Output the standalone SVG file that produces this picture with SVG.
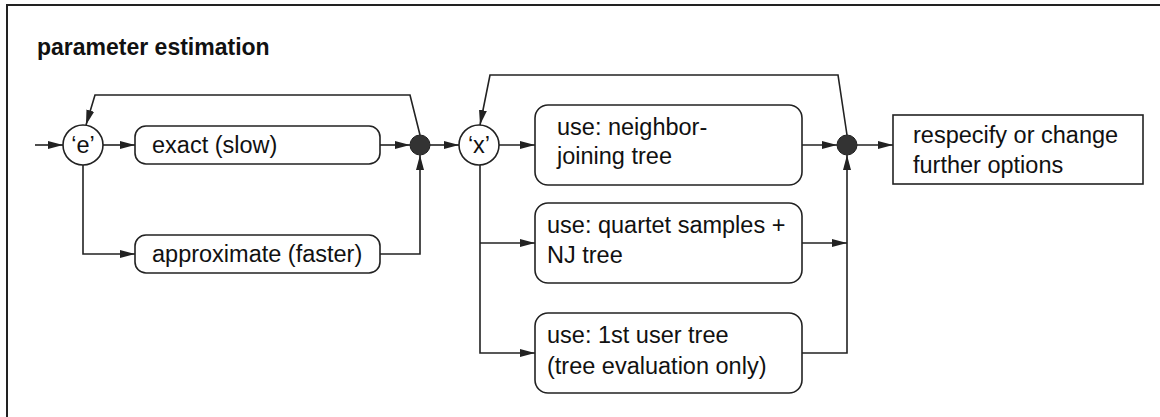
<svg xmlns="http://www.w3.org/2000/svg" width="1160" height="417" viewBox="0 0 1160 417">
<style>
.ln{fill:none;stroke:#222;stroke-width:1.6}
.bx{fill:#fff;stroke:#222;stroke-width:1.6}
.t{font-family:"Liberation Sans",Arial,sans-serif;font-size:23.5px;fill:#111}
.title{font-family:"Liberation Sans",Arial,sans-serif;font-size:23px;font-weight:bold;fill:#111}
.dot{fill:#333;stroke:#222;stroke-width:1}
</style>
<defs>
<marker id="ah" markerWidth="16" markerHeight="10" refX="15" refY="5" orient="auto" markerUnits="userSpaceOnUse">
<path d="M0,1 L15,5 L0,9 Z" fill="#222"/>
</marker>
</defs>
<rect width="1160" height="417" fill="#fff"/>
<path class="ln" d="M7,420 L7,5 L1162,5" style="stroke-width:2"/>
<text class="title" x="37" y="55">parameter estimation</text>

<g id="connectors">
<path class="ln" d="M35,145 L63,145" marker-end="url(#ah)"/>
<path class="ln" d="M103,145 L135,145" marker-end="url(#ah)"/>
<path class="ln" d="M83,165 L83,254 L135,254" marker-end="url(#ah)"/>
<path class="ln" d="M380,145 L410,145" marker-end="url(#ah)"/>
<path class="ln" d="M380,254 L420,254 L420,155" marker-end="url(#ah)"/>
<path class="ln" d="M420,135 L410,95 L95,95 L86,125" marker-end="url(#ah)"/>
<path class="ln" d="M430,145 L459,145" marker-end="url(#ah)"/>
<path class="ln" d="M499,145 L535,145" marker-end="url(#ah)"/>
<path class="ln" d="M480,165 L480,353 L535,353" marker-end="url(#ah)"/>
<path class="ln" d="M480,243 L535,243" marker-end="url(#ah)"/>
<path class="ln" d="M802,145 L837,145" marker-end="url(#ah)"/>
<path class="ln" d="M802,243 L847,243" marker-end="url(#ah)"/>
<path class="ln" d="M802,353 L847,353 L847,155" marker-end="url(#ah)"/>
<path class="ln" d="M847,135 L838,75 L490,75 L480,125" marker-end="url(#ah)"/>
<path class="ln" d="M857,145 L893,145" marker-end="url(#ah)"/>
</g>

<g id="node-e">
<circle class="bx" cx="83" cy="145" r="20"/>
<text class="t" x="83" y="153" text-anchor="middle">‘e’</text>
</g>
<g id="node-exact">
<rect class="bx" x="135" y="126" width="245" height="38" rx="11"/>
<text class="t" x="152" y="153">exact (slow)</text>
</g>
<g id="node-approx">
<rect class="bx" x="135" y="235" width="245" height="38" rx="11"/>
<text class="t" x="152" y="262">approximate (faster)</text>
</g>
<g id="node-join1">
<circle class="dot" cx="420" cy="145" r="10"/>
</g>
<g id="node-x">
<circle class="bx" cx="479" cy="145" r="20"/>
<text class="t" x="479" y="153" text-anchor="middle">‘x’</text>
</g>
<g id="node-nj">
<rect class="bx" x="535" y="105" width="267" height="80" rx="13"/>
<text class="t" x="557" y="135">use: neighbor-</text>
<text class="t" x="557" y="164">joining tree</text>
</g>
<g id="node-quartet">
<rect class="bx" x="535" y="203" width="267" height="80" rx="13"/>
<text class="t" x="547" y="233">use: quartet samples +</text>
<text class="t" x="547" y="263">NJ tree</text>
</g>
<g id="node-user">
<rect class="bx" x="535" y="313" width="267" height="80" rx="13"/>
<text class="t" x="547" y="343">use: 1st user tree</text>
<text class="t" x="547" y="374">(tree evaluation only)</text>
</g>
<g id="node-join2">
<circle class="dot" cx="847" cy="145" r="10"/>
</g>
<g id="node-respecify">
<rect class="bx" x="893" y="115" width="250" height="69"/>
<text class="t" x="913" y="143">respecify or change</text>
<text class="t" x="913" y="173">further options</text>
</g>
</svg>
